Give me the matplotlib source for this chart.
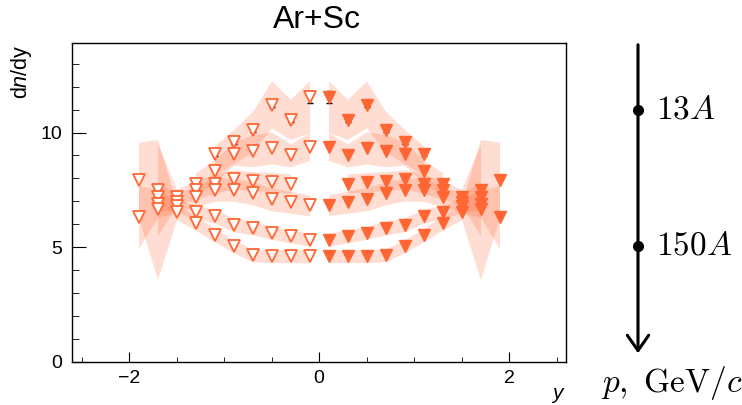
import numpy as np
import matplotlib.pyplot as plt
from matplotlib.ticker import MultipleLocator

plt.rcParams['font.family'] = ['Liberation Sans', 'DejaVu Sans']
plt.rcParams['mathtext.fontset'] = 'custom'
plt.rcParams['mathtext.rm'] = 'Liberation Sans'
plt.rcParams['mathtext.it'] = 'Liberation Sans:italic'

# rapidity bin centres (forward hemisphere, mirrored for y<0)
y_bins = [0.1, 0.3, 0.5, 0.7, 0.9, 1.1, 1.3, 1.5, 1.7, 1.9]

# dn/dy per beam momentum, with systematic band half-widths
dndy_13 = [11.54, 10.55, 11.20, 10.12, 9.58, 9.07]
sys_13_lo = [1.55, 0.85, 1.00, 0.95, 0.95, 0.90]
sys_13_hi = [0.72, 0.90, 1.05, 0.80, 0.55, 0.35]
stat_13 = [0.25, 0.1, 0.1, 0.1, 0.1, 0.1]

dndy_19 = [9.39, 9.00, 9.33, 9.21, 9.07, 8.32, 7.74]
sys_19 = [0.60, 0.50, 0.70, 0.70, 0.50, 0.50, 0.50]

dndy_30 = [7.77, 7.84, 7.88, 7.96, 7.77, 7.48, 7.19, 7.50]   # starts at y=0.3
sys_30 = [0.42, 0.42, 0.42, 0.42, 0.42, 0.40, 0.35, 2.00]

dndy_40 = [6.83, 6.96, 7.09, 7.35, 7.51, 7.51, 7.19, 6.97, 7.20]
sys_40 = [0.45, 0.48, 0.50, 0.50, 0.50, 0.50, 0.45, 0.40, 0.60]

dndy_75 = [5.33, 5.47, 5.63, 5.84, 5.98, 6.35, 6.54, 6.80, 6.90, 6.32]
sys_75 = [0.28, 0.28, 0.28, 0.30, 0.30, 0.30, 0.30, 0.30, 0.60, 1.38]

dndy_150 = [4.61, 4.61, 4.61, 4.65, 5.04, 5.53, 6.05, 6.55, 6.65, 7.94]
sys_150 = [0.28, 0.28, 0.28, 0.28, 0.28, 0.30, 0.30, 0.35, 3.05, 1.64]

color = '#ff6633'

fig = plt.figure(figsize=(7.42, 4.05), dpi=100)
ax = fig.add_axes([72 / 742, 1 - 362 / 405, 494 / 742, 319 / 405])

series = [
    (y_bins[:6], dndy_13, sys_13_lo, sys_13_hi),
    (y_bins[:7], dndy_19, sys_19, sys_19),
    (y_bins[1:9], dndy_30, sys_30, sys_30),
    (y_bins[:9], dndy_40, sys_40, sys_40),
    (y_bins, dndy_75, sys_75, sys_75),
    (y_bins, dndy_150, sys_150, sys_150),
]

for xs, vals, elo, ehi in series:
    xs = np.array(xs)
    vals = np.array(vals)
    lo = vals - np.array(elo)
    hi = vals + np.array(ehi)
    for sign in (1, -1):
        ax.fill_between(sign * xs, lo, hi, color=color, alpha=0.22, lw=0, zorder=1)
    ax.plot(xs, vals, 'v', ms=8.5, color=color, mec=color, zorder=3)
    ax.plot(-xs, vals, 'v', ms=8.5, mfc='white', mec=color, mew=1.3, zorder=3)

# statistical errors (visible only for the top series near y=0)
x13 = np.array(y_bins[:6])
for sign in (1, -1):
    ax.errorbar(sign * x13, dndy_13, yerr=stat_13, fmt='none', ecolor='black',
                elinewidth=1, capsize=2.5, capthick=1, zorder=2)

ax.set_xlim(-2.6, 2.6)
ax.set_ylim(0, 13.9)
ax.xaxis.set_major_locator(MultipleLocator(2))
ax.xaxis.set_minor_locator(MultipleLocator(0.5))
ax.yaxis.set_major_locator(MultipleLocator(5))
ax.yaxis.set_minor_locator(MultipleLocator(1))
ax.tick_params(axis='both', which='both', direction='in', labelsize=14,
               top=False, right=False)
ax.tick_params(axis='x', which='major', length=7.2, pad=6)
ax.tick_params(axis='x', which='minor', length=3.6)
ax.tick_params(axis='y', which='major', length=10, pad=7)
ax.tick_params(axis='y', which='minor', length=5)
for sp in ax.spines.values():
    sp.set_linewidth(1.0)

fig.text(317 / 742, 1 - 20 / 405, 'Ar+Sc', ha='center', va='center', fontsize=23)
fig.text(22 / 742, 1 - 44 / 405, 'd$n$/dy', rotation=90, ha='center', va='top',
         fontsize=15.5)
fig.text(566 / 742, 1 - 386 / 405, '$y$', ha='right', va='top', fontsize=15)

# beam momentum arrow on the right
ax2 = fig.add_axes([0, 0, 1, 1])
ax2.set_xlim(0, 742)
ax2.set_ylim(405, 0)
ax2.axis('off')
ax2.annotate('', xy=(638, 356), xytext=(638, 42),
             arrowprops=dict(arrowstyle='->, head_width=0.35, head_length=0.5',
                             lw=2.2, color='black', mutation_scale=22))
ax2.plot([638, 638], [110, 246], 'o', ms=7, color='black')
for lbl, ypos in [('$13A$', 110), ('$150A$', 246)]:
    ax2.text(656, ypos, lbl, ha='left', va='center', fontsize=24, math_fontfamily='cm')
ax2.text(672, 383, r'$p,\ \mathrm{GeV}/c$', ha='center', va='center', fontsize=24,
         math_fontfamily='cm')

fig.savefig('out.png', dpi=100)
